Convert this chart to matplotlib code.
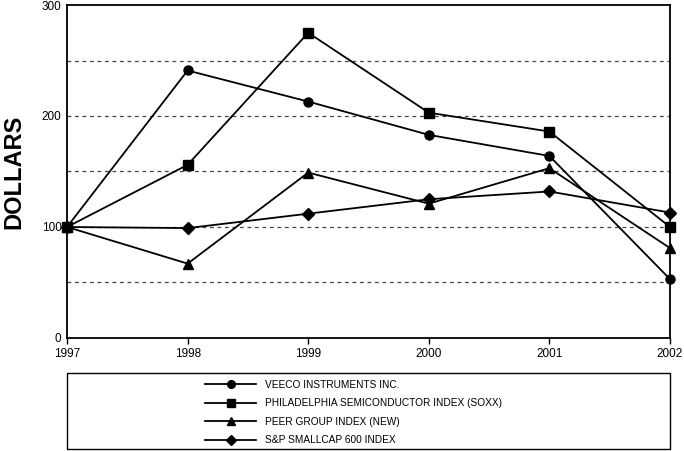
import matplotlib.pyplot as plt
from matplotlib.patches import Rectangle

# data
years = [1997, 1998, 1999, 2000, 2001, 2002]
veeco = [100, 241, 213, 183, 164, 53]
soxx = [100, 156, 275, 203, 186, 100]
peer = [100, 67, 149, 121, 153, 81]
smallcap = [100, 99, 112, 125, 132, 113]

labels = ['VEECO INSTRUMENTS INC.',
          'PHILADELPHIA SEMICONDUCTOR INDEX (SOXX)',
          'PEER GROUP INDEX (NEW)',
          'S&P SMALLCAP 600 INDEX']
markers = ['o', 's', '^', 'D']

plt.rcParams['font.family'] = ['Liberation Sans', 'DejaVu Sans']

fig = plt.figure(figsize=(6.84, 4.51), dpi=100)
ax = fig.add_axes([0.098, 0.2506, 0.8815, 0.7383])

for vals, m, lab in zip([veeco, soxx, peer, smallcap], markers, labels):
    ax.plot(years, vals, color='black', lw=1.3, marker=m,
            markersize=6.5 if m != 'D' else 6, label=lab, clip_on=False, zorder=3)

for g in [50, 100, 150, 200, 250]:
    ax.axhline(g, color='#444444', lw=0.9, ls=(0, (3, 3)), zorder=1)

ax.set_xlim(1997, 2002)
ax.set_ylim(0, 300)
ax.set_xticks(years)
ax.set_yticks([0, 100, 200, 300])
ax.tick_params(axis='y', length=0, labelsize=8.5, pad=4)
ax.tick_params(axis='x', length=4, width=1, labelsize=8.5, pad=3)
for s in ax.spines.values():
    s.set_linewidth(1.3)

fig.text(0.003, 0.62, 'DOLLARS', rotation=90, fontsize=17, fontweight='bold',
         ha='left', va='center')

# legend box below the plot
fig.patches.append(Rectangle((0.098, 0.0044), 0.8815, 0.1685, transform=fig.transFigure,
                             fill=False, edgecolor='black', lw=1.0))
handles, labs = ax.get_legend_handles_labels()
fig.legend(handles, labs, loc='upper left', bbox_to_anchor=(0.29, 0.174),
           frameon=False, fontsize=7.3, handlelength=5, handletextpad=0.9,
           labelspacing=0.85, borderpad=0.2, markerscale=0.85)

fig.savefig('out.png', dpi=100)
